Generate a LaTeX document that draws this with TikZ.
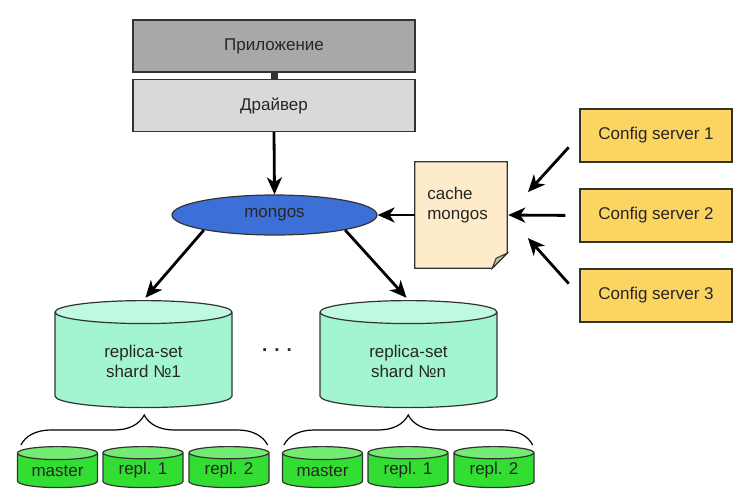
\documentclass[tikz,border=0pt]{standalone}
\usepackage{fontspec}
\setmainfont{Liberation Sans}
\usetikzlibrary{shapes.geometric,arrows.meta,decorations.pathreplacing,calc}
\definecolor{edge}{HTML}{333333}
\definecolor{appgray}{HTML}{A8A8A8}
\definecolor{drvgray}{HTML}{D9D9D9}
\definecolor{mongoblue}{HTML}{3C6FD8}
\definecolor{notefill}{HTML}{FDEBC9}
\definecolor{notefold}{HTML}{CFC3A8}
\definecolor{cfgyellow}{HTML}{FCD462}
\definecolor{shardbody}{HTML}{A2F5CF}
\definecolor{shardtop}{HTML}{BFF9E0}
\definecolor{nodebody}{HTML}{33DE33}
\definecolor{nodetop}{HTML}{74EC74}
\tikzset{
  arr/.style={-{Stealth[length=17pt,width=15pt,inset=5pt]},line width=2.8pt},
  layer/.style={draw=edge,line width=1.2pt,minimum width=282pt,minimum height=52pt},
  cfg/.style={draw=edge,fill=cfgyellow,line width=1.2pt,minimum width=152pt,minimum height=53pt},
  shard/.style={cylinder,shape border rotate=90,draw=edge,line width=1.2pt,
    cylinder uses custom fill,cylinder body fill=shardbody,cylinder end fill=shardtop,
    aspect=0.27,minimum width=177pt,minimum height=107pt,align=center,anchor=north},
  member/.style={cylinder,shape border rotate=90,draw=edge,line width=1.2pt,
    cylinder uses custom fill,cylinder body fill=nodebody,cylinder end fill=nodetop,
    aspect=0.25,minimum width=80pt,minimum height=41pt,inner sep=0pt,anchor=north}
}
\begin{document}
\begin{tikzpicture}[x=1pt,y=-1pt,font=\fontsize{17}{20}\selectfont,text=black!85]
  \useasboundingbox (0,0) rectangle (742,501);
  % client side
  \node[layer,fill=appgray] (app) at (274,46) {Приложение};
  \node[layer,fill=drvgray] (drv) at (274,105.5) {Драйвер};
  \draw[line width=7pt,edge] (app.south) -- (drv.north);
  \node[ellipse,draw=edge,fill=mongoblue,line width=1.2pt,minimum width=205pt,minimum height=40pt,inner sep=0pt] (mongos) at (274.5,215) {mongos};
  \draw[arr] (drv.south) -- (mongos.north);
  % cached config
  \node[minimum width=92pt,minimum height=106pt] (note) at (461,215) {};
  \fill[notefill,draw=edge,line width=1.2pt] (note.north west) -- (note.north east)
    -- ([yshift=15pt]note.south east) -- ([xshift=-15pt]note.south east)
    -- (note.south west) -- cycle;
  \filldraw[fill=notefold,draw=edge,line width=1pt] ([yshift=15pt]note.south east)
    -- ([shift={(-11pt,10pt)}]note.south east) -- ([xshift=-15pt]note.south east) -- cycle;
  \node[text width=74pt,align=left,anchor=north west] (notetext) at ([shift={(9pt,-22pt)}]note.north west) {cache\\mongos};
  \draw[arr] (note.west) -- (mongos.east);
  % config servers
  \node[cfg] (cfg1) at (656,135.5) {Config server 1};
  \node[cfg] (cfg2) at (656,215.5) {Config server 2};
  \node[cfg] (cfg3) at (656,295.5) {Config server 3};
  \draw[arr,shorten <=16pt,shorten >=31pt] (cfg1.west) -- (note.east);
  \draw[arr,shorten <=14pt,shorten >=1pt] (cfg2.west) -- (note.east);
  \draw[arr,shorten <=16pt,shorten >=31pt] (cfg3.west) -- (note.east);
  % shards
  \node[shard] (sh1) at (143.5,300) {replica-set\\shard №1};
  \node[shard] (shn) at (408.5,300) {replica-set\\shard №n};
  \node[font=\bfseries\fontsize{19}{20}\selectfont] (dots) at (277,350) {. . .};
  \draw[arr,shorten >=3pt] (mongos.192) -- (sh1.north);
  \draw[arr,shorten >=3pt] (mongos.348) -- (shn.north);
  % replica set members
  \node[member] (ma1) at (57.5,446) {master};
  \node[member] (ra1) at (143,446) {repl. 1};
  \node[member] (rb1) at (229,446) {repl. 2};
  \node[member] (ma2) at (322.5,446) {master};
  \node[member] (ra2) at (408,446) {repl. 1};
  \node[member] (rb2) at (494,446) {repl. 2};
  \draw[line width=1.2pt,decorate,decoration={brace,amplitude=30pt}]
    ($(ma1.west |- ma1.north)+(4,-1)$) -- ($(rb1.east |- rb1.north)+(-2,-1)$);
  \draw[line width=1.2pt,decorate,decoration={brace,amplitude=30pt}]
    ($(ma2.west |- ma2.north)+(2,-1)$) -- ($(rb2.east |- rb2.north)+(-2,-1)$);
\end{tikzpicture}
\end{document}
